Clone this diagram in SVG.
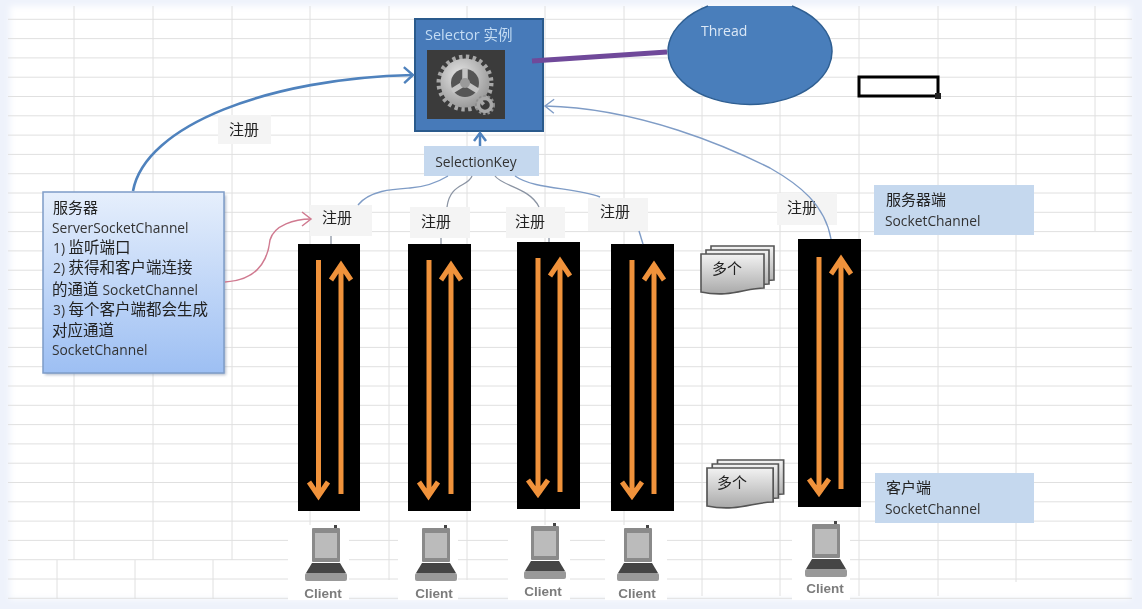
<svg xmlns="http://www.w3.org/2000/svg" xmlns:xlink="http://www.w3.org/1999/xlink" width="1142" height="609" viewBox="0 0 1142 609">
<style>
text{font-family:"Open Sans","Noto Sans CJK SC",sans-serif;font-size:13.8px;fill:#333}
.cjk{font-size:15px;fill:#222}
.srv{font-size:15.5px;fill:#222}
.mid{text-anchor:middle}
.grid line{stroke:#e0e0e0;stroke-width:1}
.reg{fill:#f4f4f4}
.bar{fill:#000}
.or{fill:none;stroke:#f0923b;stroke-width:5}
.note{fill:#c5d8ee}
.thin{fill:none;stroke:#7f9cc6;stroke-width:1.4}
.stub{fill:none;stroke:#8b94a3;stroke-width:1.3}
.client{font-family:"Liberation Sans",sans-serif;font-size:13.5px;font-weight:bold;fill:#7b7b7b;text-anchor:middle}
.page{fill:url(#pg);stroke:#555;stroke-width:1.6}
</style>
<defs>
<filter id="soft" filterUnits="userSpaceOnUse" x="0" y="0" width="1142" height="609"><feGaussianBlur stdDeviation="0.45"/></filter>
<filter id="edge" filterUnits="userSpaceOnUse" x="-20" y="-20" width="1182" height="649"><feGaussianBlur stdDeviation="3"/></filter>
<filter id="shade" x="-10%" y="-10%" width="120%" height="120%"><feGaussianBlur stdDeviation="1.5"/></filter>
<linearGradient id="srv" x1="0" y1="0" x2="0" y2="1"><stop offset="0" stop-color="#e6effc"/><stop offset="1" stop-color="#9dbff3"/></linearGradient>
<linearGradient id="pg" x1="0" y1="0" x2="0" y2="1"><stop offset="0" stop-color="#f2f2f2"/><stop offset="1" stop-color="#a9a9a9"/></linearGradient>
<radialGradient id="gr" cx="0.4" cy="0.35" r="0.8"><stop offset="0" stop-color="#e6e6e6"/><stop offset="1" stop-color="#8a8a8a"/></radialGradient>
<marker id="ab" markerUnits="userSpaceOnUse" markerWidth="14" markerHeight="20" refX="11" refY="10" orient="auto"><path d="M2 2 L11 10 L2 18" fill="none" stroke="#4f82bd" stroke-width="2.4"/></marker>
<marker id="at" markerUnits="userSpaceOnUse" markerWidth="14" markerHeight="20" refX="11" refY="10" orient="auto"><path d="M2 3 L11 10 L2 17" fill="none" stroke="#7f9cc6" stroke-width="1.4"/></marker>
<marker id="ar" markerUnits="userSpaceOnUse" markerWidth="14" markerHeight="20" refX="11" refY="10" orient="auto"><path d="M2 3 L11 10 L2 17" fill="none" stroke="#d07a90" stroke-width="1.5"/></marker>
<symbol id="laptop" overflow="visible">
<rect x="29" y="-2" width="3" height="5" fill="#444"/>
<rect x="7" y="1" width="28" height="34" rx="1" fill="#8a8a8a"/>
<rect x="10" y="6" width="22" height="25" fill="#bbb"/>
<path d="M7 36H35L41 46H1Z" fill="#444"/>
<rect x="0" y="46" width="42" height="8" rx="2" fill="#999"/>
</symbol>
<path id="doc" d="M0 0H63V34C44 34 29 44 0 38Z"/>
<symbol id="stack" overflow="visible">
<use xlink:href="#doc" href="#doc" x="10" y="0" class="page"/>
<use xlink:href="#doc" href="#doc" x="5" y="4" class="page"/>
<use xlink:href="#doc" href="#doc" x="0" y="8" class="page"/>
</symbol>
</defs>
<rect width="1142" height="609" fill="#eef2fb"/>
<rect x="10" y="6" width="1120" height="593" fill="#fff" filter="url(#edge)"/>
<g filter="url(#soft)">
<g id="grid" class="grid">
<line x1="8" x2="1132" y1="19.3" y2="19.3"/><line x1="8" x2="1132" y1="38.6" y2="38.6"/><line x1="8" x2="1132" y1="57.9" y2="57.9"/><line x1="8" x2="1132" y1="77.2" y2="77.2"/><line x1="8" x2="1132" y1="96.5" y2="96.5"/><line x1="8" x2="1132" y1="115.8" y2="115.8"/><line x1="8" x2="1132" y1="135.1" y2="135.1"/><line x1="8" x2="1132" y1="154.4" y2="154.4"/><line x1="8" x2="1132" y1="173.7" y2="173.7"/><line x1="8" x2="1132" y1="193" y2="193"/><line x1="8" x2="1132" y1="212.3" y2="212.3"/><line x1="8" x2="1132" y1="231.6" y2="231.6"/><line x1="8" x2="1132" y1="250.9" y2="250.9"/><line x1="8" x2="1132" y1="270.2" y2="270.2"/><line x1="8" x2="1132" y1="289.5" y2="289.5"/><line x1="8" x2="1132" y1="308.8" y2="308.8"/><line x1="8" x2="1132" y1="328.1" y2="328.1"/><line x1="8" x2="1132" y1="347.4" y2="347.4"/><line x1="8" x2="1132" y1="366.7" y2="366.7"/><line x1="8" x2="1132" y1="386" y2="386"/><line x1="8" x2="1132" y1="405.3" y2="405.3"/><line x1="8" x2="1132" y1="424.6" y2="424.6"/><line x1="8" x2="1132" y1="443.9" y2="443.9"/><line x1="8" x2="1132" y1="463.2" y2="463.2"/><line x1="8" x2="1132" y1="482.5" y2="482.5"/><line x1="8" x2="1132" y1="501.8" y2="501.8"/><line x1="8" x2="1132" y1="521.1" y2="521.1"/><line x1="8" x2="1132" y1="540.4" y2="540.4"/><line x1="8" x2="1132" y1="559.7" y2="559.7"/><line x1="8" x2="1132" y1="579" y2="579"/><line x1="8" x2="1132" y1="598.3" y2="598.3"/>
<line x1="74" x2="74" y1="6" y2="560"/><line x1="153" x2="153" y1="6" y2="560"/><line x1="232" x2="232" y1="6" y2="560"/><line x1="310" x2="310" y1="6" y2="560"/><line x1="389" x2="389" y1="6" y2="580"/><line x1="467" x2="467" y1="6" y2="580"/><line x1="545" x2="545" y1="6" y2="580"/><line x1="624" x2="624" y1="6" y2="580"/><line x1="702" x2="702" y1="6" y2="596"/><line x1="780" x2="780" y1="6" y2="596"/><line x1="859" x2="859" y1="6" y2="596"/><line x1="938" x2="938" y1="6" y2="596"/><line x1="1016" x2="1016" y1="6" y2="582"/><line x1="1095" x2="1095" y1="6" y2="231"/>
<line x1="57" x2="57" y1="560" y2="599"/><line x1="135" x2="135" y1="560" y2="599"/><line x1="213" x2="213" y1="560" y2="599"/><line x1="292" x2="292" y1="560" y2="599"/>
</g>
<g fill="#fff"><rect x="288" y="525" width="61" height="75"/><rect x="398" y="525" width="60" height="75"/><rect x="508" y="525" width="62" height="75"/><rect x="605" y="525" width="62" height="75"/><rect x="792" y="525" width="58" height="75"/></g>

<g id="selector">
<rect x="415" y="19" width="128" height="112" fill="#467ab9" stroke="#2c5a8c" stroke-width="2"/>
<text x="425" y="40" style="fill:#c4dcf4;font-size:14.500px">Selector 实例</text>
<rect x="427" y="50" width="78" height="69" fill="#3b3b3b"/>
<circle cx="465" cy="83" r="25.500" fill="none" stroke="#a8a8a8" stroke-width="6" stroke-dasharray="3.3 3.38"/>
<circle cx="465" cy="83" r="24.500" fill="url(#gr)"/>
<circle cx="465" cy="83" r="14" fill="#555"/>
<path d="M465 83V68M465 83L452 91M465 83L478 91" stroke="#c4c4c4" stroke-width="5.500" fill="none"/>
<circle cx="465" cy="83" r="5" fill="#9a9a9a"/>
<circle cx="485" cy="105" r="8" fill="none" stroke="#8f8f8f" stroke-width="4" stroke-dasharray="2.2 1.8"/>
<circle cx="485" cy="105" r="6.500" fill="none" stroke="#a8a8a8" stroke-width="3.500"/>
</g>

<g id="thread">
<path d="M708 6A82 53 0 1 0 792 6" fill="#4a7ebb" stroke="#2f5f92" stroke-width="1.500"/>
<text x="701" y="36" style="fill:#dbe8f6;font-size:14px">Thread</text>
</g>

<g id="cell">
<rect x="859" y="77" width="79" height="19" fill="none" stroke="#000" stroke-width="3"/>
<rect x="935" y="93" width="6" height="6" fill="#222"/>
</g>

<g id="selection-key">
<rect x="424" y="146" width="115" height="30" class="note"/>
<text x="476" y="167" class="mid">SelectionKey</text>
</g>

<g id="server">
<rect x="45" y="195" width="181" height="180" fill="#7f8fa8" opacity=".6" filter="url(#shade)"/>
<rect x="43" y="192" width="181" height="181" fill="url(#srv)" stroke="#7e9cc8" stroke-width="1.500"/>
<text x="53" y="213" class="cjk">服务器</text>
<text x="52" y="233">ServerSocketChannel</text>
<text x="53" y="253"><tspan>1) </tspan><tspan class="srv">监听端口</tspan></text>
<text x="53" y="273"><tspan>2)  </tspan><tspan class="srv">获得和客户端连接</tspan></text>
<text x="52" y="295"><tspan class="srv">的通道 </tspan><tspan>SocketChannel</tspan></text>
<text x="53" y="315"><tspan>3) </tspan><tspan class="srv">每个客户端都会生成</tspan></text>
<text x="52" y="336" class="srv">对应通道</text>
<text x="52" y="355">SocketChannel</text>
</g>

<g id="reg-top"><rect x="218" y="115" width="53" height="29" class="reg"/><text x="244" y="135" class="cjk mid">注册</text></g>
<g id="reg-1"><rect x="310" y="205" width="62" height="31" class="reg"/><text x="337" y="223" class="cjk mid">注册</text></g>
<g id="reg-2"><rect x="410" y="207" width="60" height="31" class="reg"/><text x="436" y="227" class="cjk mid">注册</text></g>
<g id="reg-3"><rect x="506" y="207" width="59" height="31" class="reg"/><text x="530" y="227" class="cjk mid">注册</text></g>
<g id="reg-4"><rect x="588" y="198" width="60" height="33" class="reg"/><text x="615" y="217" class="cjk mid">注册</text></g>
<g id="reg-5"><rect x="777" y="193" width="60" height="32" class="reg"/><text x="802" y="213" class="cjk mid">注册</text></g>

<g id="channel-1"><rect x="298" y="244" width="62" height="267" class="bar"/><path class="or" d="M318.500 260V496M309 482L318.500 496L328 482M341 266V494M331 280L341 265L351 280"/></g>
<g id="channel-2"><rect x="408" y="244" width="63" height="267" class="bar"/><path class="or" d="M429 260V496M419 482L428.500 496L438 482M451 266V494M441 280L451 265L461 280"/></g>
<g id="channel-3"><rect x="517" y="242" width="63" height="267" class="bar"/><path class="or" d="M538 258V494M528 480L538 494L548 480M560 262V492M550 276L560 261L570 276"/></g>
<g id="channel-4"><rect x="611" y="244" width="63" height="267" class="bar"/><path class="or" d="M632 260V496M622 482L632 496L642 482M654 266V494M644 280L654 265L664 280"/></g>
<g id="channel-5"><rect x="798" y="239" width="63" height="268" class="bar"/><path class="or" d="M819 257V493M809 479L819 493L829 479M841 260V489M831 274L841 259L851 274"/></g>

<g id="client-1"><use xlink:href="#laptop" href="#laptop" x="305" y="527"/><text x="323" y="598" class="client">Client</text></g>
<g id="client-2"><use xlink:href="#laptop" href="#laptop" x="415" y="527"/><text x="434" y="598" class="client">Client</text></g>
<g id="client-3"><use xlink:href="#laptop" href="#laptop" x="524" y="525"/><text x="543" y="596" class="client">Client</text></g>
<g id="client-4"><use xlink:href="#laptop" href="#laptop" x="617" y="527"/><text x="637" y="598" class="client">Client</text></g>
<g id="client-5"><use xlink:href="#laptop" href="#laptop" x="805" y="523"/><text x="825" y="593" class="client">Client</text></g>

<g id="many-1"><use xlink:href="#stack" href="#stack" x="701" y="246"/><text x="727" y="274" class="cjk mid">多个</text></g>
<g id="many-2"><use xlink:href="#stack" href="#stack" transform="translate(707 460) scale(1.05 1)"/><text x="732" y="488" class="cjk mid">多个</text></g>

<g id="server-note"><rect x="874" y="185" width="160" height="50" class="note"/><text x="886" y="205" class="cjk">服务器端</text><text x="885" y="226">SocketChannel</text></g>
<g id="client-note"><rect x="875" y="473" width="159" height="50" class="note"/><text x="886" y="493" class="cjk">客户端</text><text x="885" y="514">SocketChannel</text></g>

<g id="connectors">
<path d="M532 61L667 52" fill="none" stroke="#6f4a9a" stroke-width="5"/>
<path d="M133 191C145 125 270 78 413 75" fill="none" stroke="#4f82bd" stroke-width="2.600" marker-end="url(#ab)"/>
<path d="M225 282C260 280 268 258 270 240C274 225 295 219 311 219" fill="none" stroke="#d07a90" stroke-width="1.500" marker-end="url(#ar)"/>
<path d="M480 146V133" fill="none" stroke="#4f82bd" stroke-width="2.500"/>
<path d="M474 141L480 133L486 141" fill="none" stroke="#4f82bd" stroke-width="2.500"/>
<path class="thin" d="M358 205C370 190 395 189 410 188C425 187 438 182 448 176"/>
<path class="stub" d="M472 176C468 187 450 183 447 207"/>
<path class="stub" d="M495 176C502 186 530 188 539 207"/>
<path class="thin" d="M515 176C535 190 575 187 600 197"/>
<path class="stub" d="M331 236V244M441 238V244M549 238V242"/>
<path class="thin" d="M639 231L643 244"/>
<path class="thin" d="M831 239C825 205 800 185 770 168C730 148 640 108 545 106" marker-end="url(#at)"/>
</g>
</g>
</svg>
